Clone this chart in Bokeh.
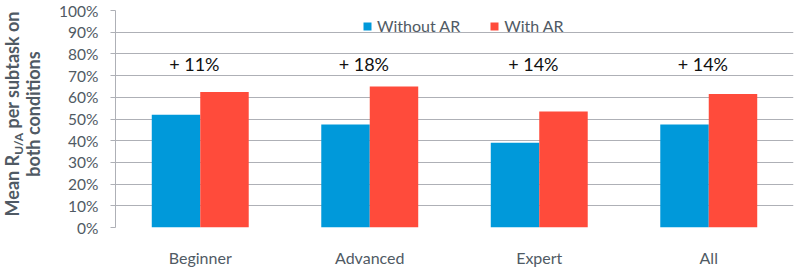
from bokeh.plotting import figure
from bokeh.models import ColumnDataSource, FixedTicker, Legend, LegendItem, Div
from bokeh.layouts import row
from bokeh.transform import dodge
from bokeh.core.properties import value
from bokeh.embed import file_html
from bokeh.resources import INLINE

# ---- data ----
categories = ["Beginner", "Advanced", "Expert", "All"]
without_ar = [52, 47.5, 39, 47.5]
with_ar = [62.5, 65, 53.5, 61.5]
gain_labels = ["+ 11%", "+ 18%", "+ 14%", "+ 14%"]
y_ticks = [0, 10, 20, 30, 40, 50, 60, 70, 80, 90, 100]
y_tick_labels = ["0%", "10%", "20%", "30%", "40%", "50%", "60%", "70%", "80%", "90%", "100%"]
series_names = ["Without AR", "With AR"]
y_title = ["Mean R", "U/A", " per subtask on", "both conditions"]

# ---- style ----
BLUE = "#0099DA"
RED = "#FF4B3B"
TXT = "#505A64"
GRID = "#AEB0B6"
FONT = "Lato"
BAR_W = 0.286
GAIN_Y = 75.2
LEFT_W = 48

src = ColumnDataSource(dict(cat=categories, wo=without_ar, w=with_ar, gain=gain_labels))

p = figure(x_range=categories, y_range=(0, 100), width=796 - LEFT_W, height=269,
           output_backend="svg", toolbar_location=None,
           min_border_left=115 - LEFT_W, min_border_right=3, min_border_top=10,
           min_border_bottom=35)
p.outline_line_color = None

r1 = p.vbar(x=dodge("cat", -BAR_W / 2, range=p.x_range), top="wo", width=BAR_W, bottom=0,
            source=src, fill_color=BLUE, line_color=None)
r2 = p.vbar(x=dodge("cat", BAR_W / 2, range=p.x_range), top="w", width=BAR_W, bottom=0,
            source=src, fill_color=RED, line_color=None)

p.text(x=dodge("cat", -0.035, range=p.x_range), y=GAIN_Y, text="gain", source=src,
       text_align="center", text_baseline="middle", text_font=value(FONT),
       text_font_size="18px", text_color="#111111")

# axes
p.xaxis.axis_line_color = None
p.xaxis.major_tick_line_color = None
p.xaxis.minor_tick_line_color = None
p.xaxis.major_label_text_font = FONT
p.xaxis.major_label_text_font_size = "16px"
p.xaxis.major_label_text_color = TXT
p.xaxis.major_label_standoff = 14

p.yaxis.ticker = FixedTicker(ticks=y_ticks)
p.yaxis.major_label_overrides = {t: l for t, l in zip(y_ticks, y_tick_labels)}
p.yaxis.axis_line_color = GRID
p.yaxis.major_tick_line_color = GRID
p.yaxis.major_tick_out = 5
p.yaxis.major_tick_in = 0
p.yaxis.minor_tick_line_color = None
p.yaxis.major_label_text_font = FONT
p.yaxis.major_label_text_font_size = "15.5px"
p.yaxis.major_label_text_color = TXT
p.yaxis.major_label_standoff = 12

p.xgrid.grid_line_color = None
p.ygrid.grid_line_color = GRID
p.ygrid.grid_line_width = 1

# legend
legend = Legend(items=[LegendItem(label=series_names[0], renderers=[r1]),
                       LegendItem(label=series_names[1], renderers=[r2])],
                orientation="horizontal", location=(247, 192),
                glyph_width=10, glyph_height=10, label_height=10,
                label_standoff=5, spacing=29, padding=0, margin=0,
                border_line_alpha=0, background_fill_alpha=0,
                label_text_font=FONT, label_text_font_size="16px", label_text_color=TXT)
p.add_layout(legend, "center")

# ---- left strip: rotated two-line y-axis title with a real subscript ----
BLOCK_L = 240
BLOCK_H = 42
CX, CY = 23, 114
title_html = (
    f'<div style="position:relative;width:{LEFT_W}px;height:269px;overflow:visible;">'
    f'<div style="position:absolute;left:{CX - BLOCK_L // 2}px;top:{CY - BLOCK_H // 2}px;'
    f'width:{BLOCK_L}px;height:{BLOCK_H}px;transform:rotate(-90deg);'
    f'text-align:center;white-space:nowrap;font-family:{FONT};font-weight:bold;'
    f'font-size:18px;line-height:21px;color:{TXT};">'
    f'{y_title[0]}<span style="font-size:12px;vertical-align:-4px;line-height:0;">'
    f'{y_title[1]}</span>{y_title[2]}<br>{y_title[3]}</div></div>'
)
t = Div(text=title_html, width=LEFT_W, height=269, margin=0)

layout = row(t, p, spacing=0)
open("out.html", "w").write(file_html(layout, INLINE))
